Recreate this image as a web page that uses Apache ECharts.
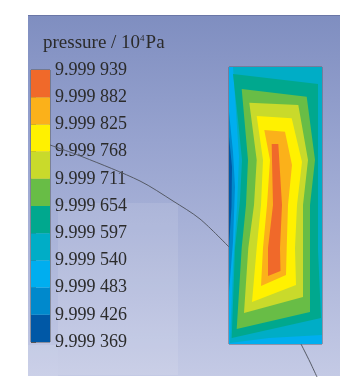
<!DOCTYPE html>
<html>
<head>
<meta charset="utf-8">
<script src="https://cdn.jsdelivr.net/npm/echarts@6/dist/echarts.min.js"></script>
<style>html,body{margin:0;padding:0;background:#fff}#c{width:356px;height:389px}</style>
</head>
<body>
<div id="c"></div>
<script>
// pressure levels (offset, in 1e-6 x 10^4 Pa above 9.999)
const tickLevels = [369, 426, 483, 540, 597, 654, 711, 768, 825, 882, 939];
const tickLabels = ['9.999 369','9.999 426','9.999 483','9.999 540','9.999 597','9.999 654','9.999 711','9.999 768','9.999 825','9.999 882','9.999 939'];
const bandColors = ['#0058a6','#0089cc','#00aeef','#00adc6','#00a88e','#68bd46','#c9da2b','#fff100','#fbb11a','#f0692a'];

// contour regions (plate coordinates, width 93 x height 277): area where p > level
const region369 = [[0,0],[93,0],[93,277],[0,277]];
const region426 = [[0,0],[93,0],[93,277],[0,277],[0,180],[2.5,140],[3,100],[0,70]];
const region483 = [[0,0],[93,0],[93,277],[0,277],[0,225],[4,175],[6,120],[4,85],[0,45]];
const region540 = [[4,0],[93,0],[93,268],[40,271],[1,276],[4,200],[8,140],[10,90],[6,30]];
const region597 = [[4,7],[89,17],[89,93],[89,183],[92,251],[2.7,271],[6,181],[11,133],[13,93],[9,53]];
const region654 = [[12.7,22],[77.7,29.7],[86,93],[81,138],[81,181],[81,245],[7.7,262],[12.7,181],[17,138],[19,93]];
const region711 = [[20.3,35.7],[69.3,38],[79,93],[74,138],[74,181],[74,230],[15,246],[19.3,181],[25,138],[27.7,93]];
const region768 = [[27.7,49],[62.7,51.3],[73,95],[68,138],[66,181],[67,218],[23,235],[27.7,181],[32,138],[34,93]];
const region825 = [[35.3,63],[56,64.7],[63,98],[59,138],[57.7,181],[57,208],[32,219],[34,181],[38,138],[41,93]];
const region882 = [[42.7,77],[49.3,77],[53,138],[51,181],[51.5,204],[39,209],[39,181],[44,138],[43,93]];
const regions = [region369, region426, region483, region540, region597, region654, region711, region768, region825, region882];

// streamline traces (page coordinates)
const streamIn = [[50,145],[83,157],[140,181],[173,201],[200,219],[229,247]];
const streamOut = [[301,344],[310,362],[317,377]];

const serif = '"Liberation Serif", "DejaVu Serif", serif';
const chart = echarts.init(document.getElementById('c'), null, {renderer: 'canvas'});

const bands = [];
for (let i = 0; i < tickLevels.length - 1; i++) bands.push([0, tickLevels[i], tickLevels[i + 1]]);

chart.setOption({
  animation: false,
  backgroundColor: '#ffffff',
  graphic: [
    {type: 'rect', z: -20, shape: {x: 28, y: 15, width: 312, height: 361},
     style: {fill: new echarts.graphic.LinearGradient(0, 0, 0, 1, [
       {offset: 0, color: '#7f8ec0'}, {offset: 0.35, color: '#97a3cf'}, {offset: 1, color: '#c4cae5'}])}},
    {type: 'rect', z: -19, shape: {x: 58, y: 203, width: 120, height: 172}, style: {fill: 'rgba(255,255,255,0.10)'}},
    {type: 'rect', z: -19, shape: {x: 28, y: 345, width: 30, height: 31}, style: {fill: 'rgba(255,255,255,0.12)'}},
    {type: 'line', z: -18, shape: {x1: 28, y1: 15.5, x2: 340, y2: 15.5}, style: {stroke: '#6a76a6', lineWidth: 1}}
  ],
  title: {
    left: 43, top: 34, padding: 0,
    text: '{a|pressure / 10}{s|4}{a|Pa}',
    textStyle: {
      fontWeight: 'normal',
      rich: {
        a: {fontFamily: serif, fontSize: 19, fontWeight: 'normal', color: '#2b2b2b'},
        s: {fontFamily: serif, fontSize: 9, fontWeight: 'normal', color: '#2b2b2b', padding: [0, 1, 10, 0]}
      }
    }
  },
  grid: [
    {left: 31, top: 70, width: 19, height: 272, show: true, borderColor: '#5a5a5a', borderWidth: 1, backgroundColor: 'transparent'},
    {left: 229, top: 67, width: 93, height: 277, show: true, borderColor: '#5e6270', borderWidth: 1, backgroundColor: 'transparent'},
    {left: 0, top: 0, width: 356, height: 389}
  ],
  xAxis: [
    {gridIndex: 0, type: 'value', min: 0, max: 1, show: false},
    {gridIndex: 1, type: 'value', min: 0, max: 93, show: false},
    {gridIndex: 2, type: 'value', min: 0, max: 356, show: false}
  ],
  yAxis: [
    {gridIndex: 0, type: 'value', min: 369, max: 939, position: 'right',
     axisLine: {show: false},
     splitLine: {show: false},
     axisTick: {show: true, length: 5, inside: false, customValues: tickLevels, lineStyle: {color: '#555'}},
     axisLabel: {show: true, margin: 5, customValues: tickLevels, fontFamily: serif, fontSize: 18, color: '#2b2b2b',
       formatter: function (v) { const i = tickLevels.indexOf(Math.round(v)); return i >= 0 ? tickLabels[i] : ''; }}},
    {gridIndex: 1, type: 'value', min: 0, max: 277, inverse: true, show: false},
    {gridIndex: 2, type: 'value', min: 0, max: 389, inverse: true, show: false}
  ],
  series: [
    {
      type: 'custom', xAxisIndex: 0, yAxisIndex: 0, data: bands, encode: {x: 0, y: [1, 2]}, z: 3,
      renderItem: function (params, api) {
        const a = api.coord([0, api.value(2)]);
        const b = api.coord([1, api.value(1)]);
        return {type: 'rect', shape: {x: a[0], y: a[1], width: b[0] - a[0], height: b[1] - a[1]},
          style: {fill: bandColors[params.dataIndex]}};
      }
    },
    {
      type: 'custom', xAxisIndex: 1, yAxisIndex: 1, clip: true, z: 3,
      data: regions.map(function (r) { return r[0]; }),
      renderItem: function (params, api) {
        const pts = regions[params.dataIndex].map(function (p) { return api.coord(p); });
        return {type: 'polygon', shape: {points: pts}, style: {fill: bandColors[params.dataIndex]}};
      }
    },
    {type: 'line', xAxisIndex: 2, yAxisIndex: 2, data: streamIn, smooth: 0.3, symbol: 'none', z: 1,
     lineStyle: {color: '#555a66', width: 1}},
    {type: 'line', xAxisIndex: 2, yAxisIndex: 2, data: streamOut, smooth: 0.3, symbol: 'none', z: 1,
     lineStyle: {color: '#555a66', width: 1}}
  ]
});
</script>
</body>
</html>
